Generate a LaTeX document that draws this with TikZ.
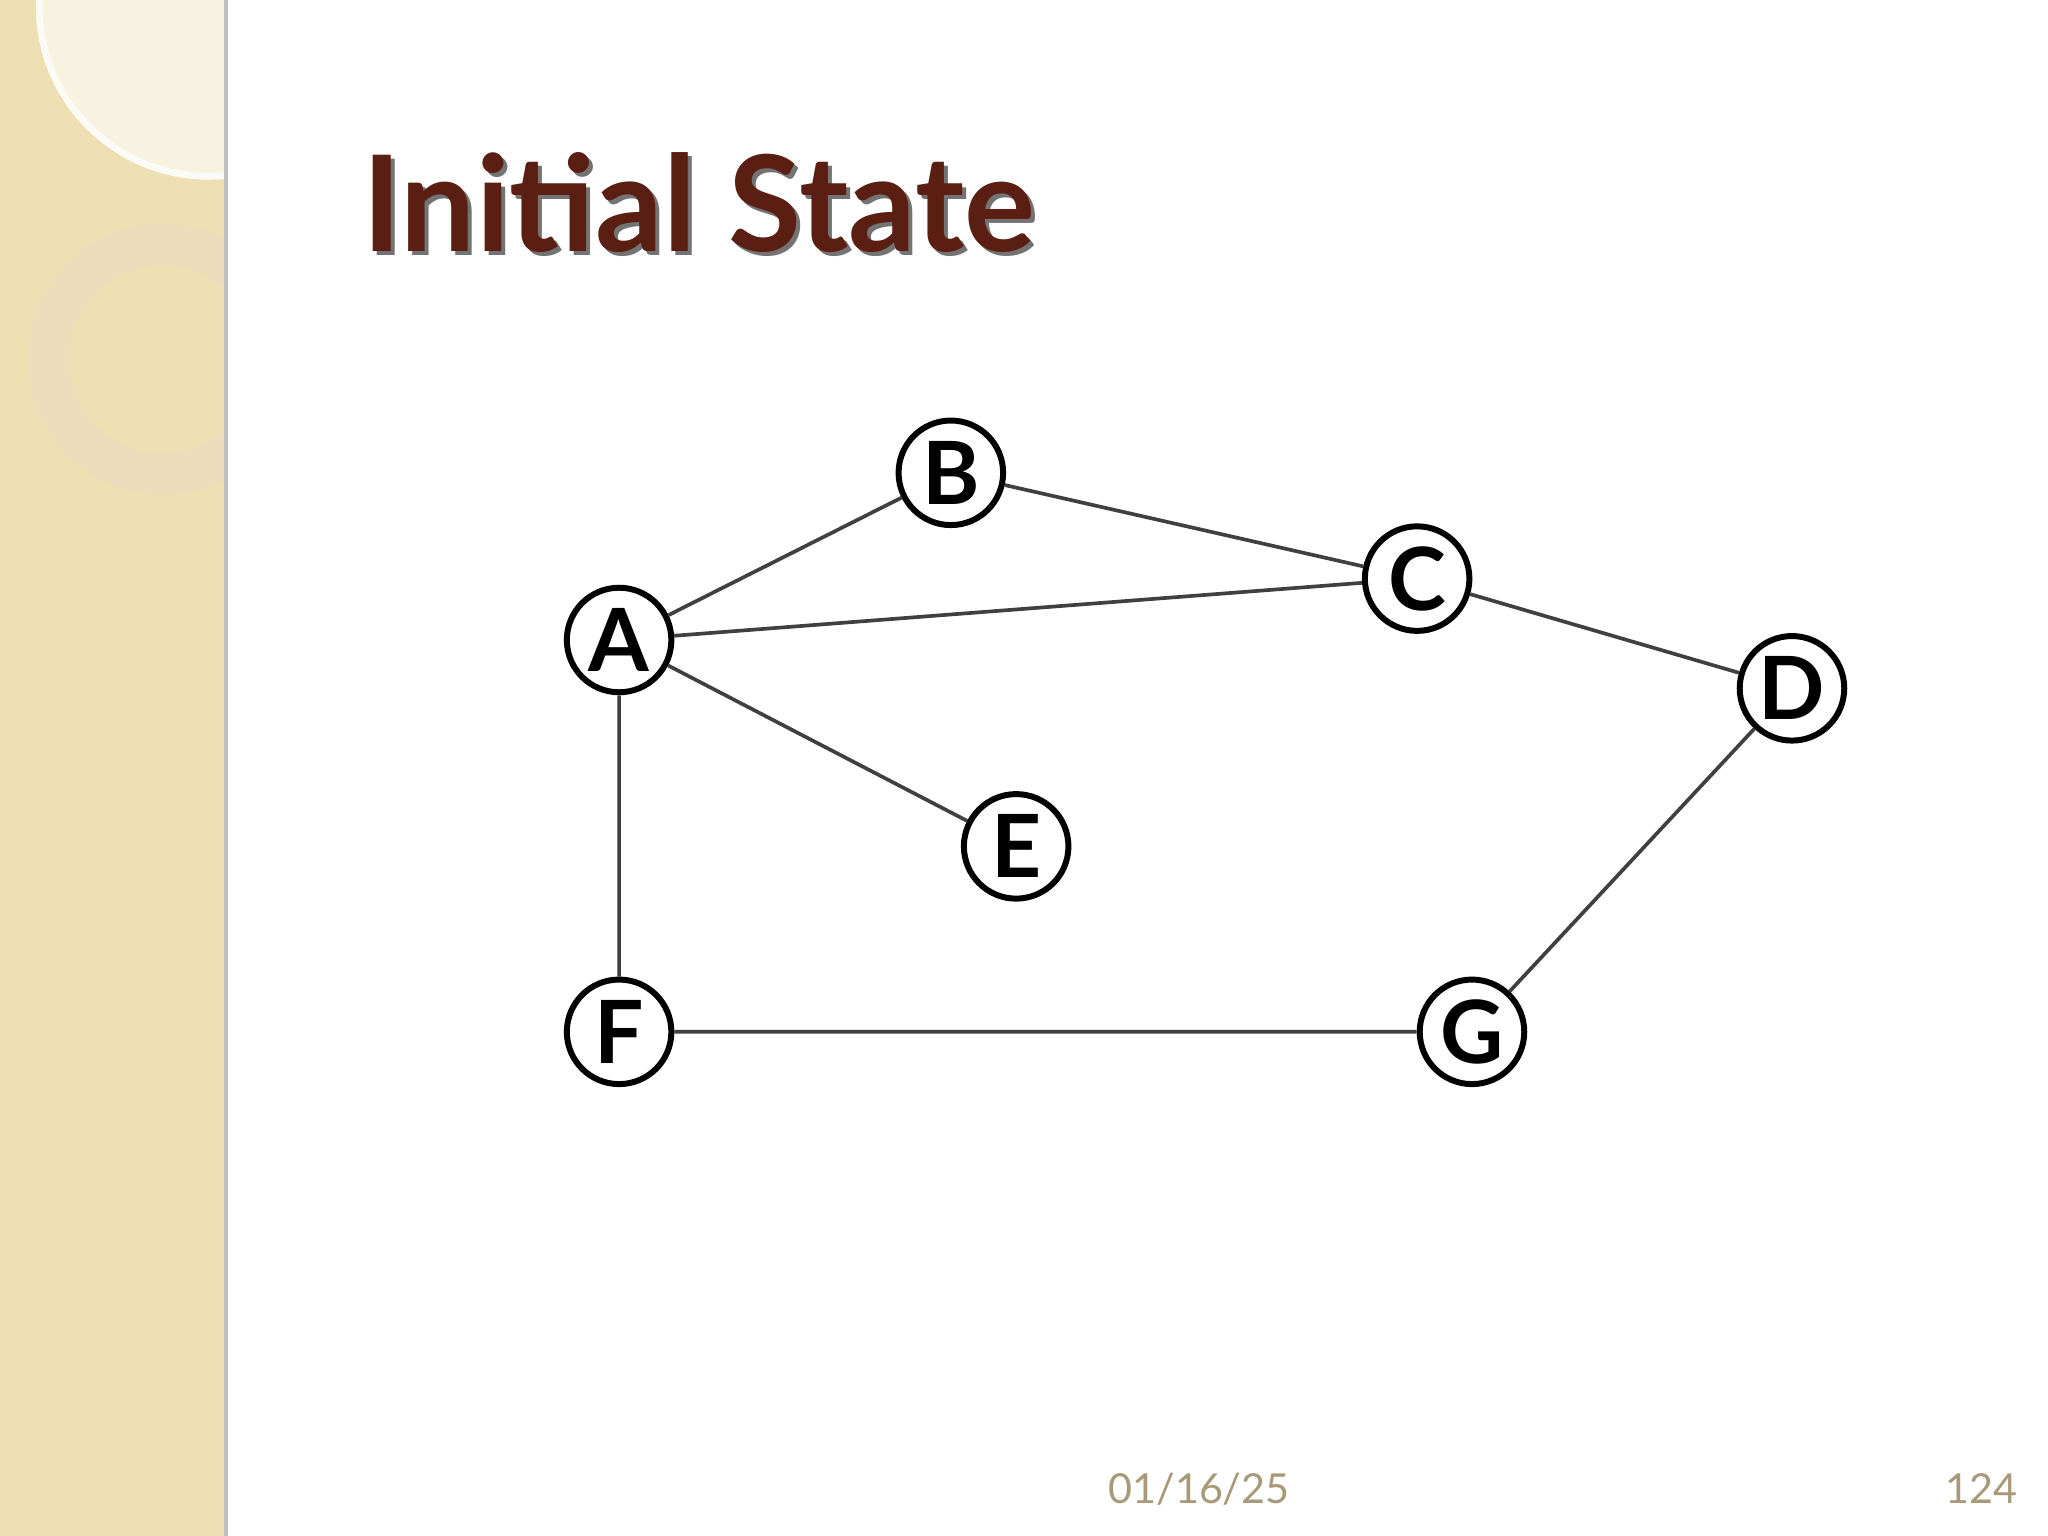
\documentclass[tikz,border=0pt]{standalone}
\usepackage{fontspec}
\setmainfont{Lato}
\begin{document}
\begin{tikzpicture}[x=0.01cm,y=-0.01cm,
  vtx/.style={circle,draw=black,line width=1.3pt,fill=white,minimum size=0.8cm,inner sep=0pt,font=\fontsize{19}{19}\selectfont\bfseries},
  edge/.style={draw=black!75,line width=0.8pt}]
\useasboundingbox (0,0) rectangle (1568,1176);
\fill[white] (0,0) rectangle (1568,1176);
\definecolor{strip}{HTML}{EEDFB2}
\fill[strip] (0,0) rectangle (173,1176);
\begin{scope}
\clip (0,0) rectangle (173,1176);
\fill[white!60!strip] (160,5) circle (130);
\draw[white!85!strip,line width=1.5pt] (160,5) circle (130);
\draw[white!40!strip!85!brown,line width=9pt] (125,275) circle (88);
\end{scope}
\draw[gray!50,line width=0.8pt] (173,0) -- (173,1176);
\definecolor{ttl}{HTML}{5A1E12}
\node[anchor=west,font=\fontsize{29}{29}\selectfont\bfseries,text=black!55] (ts) at (268,158) {Initial State};
\node[anchor=west,font=\fontsize{29}{29}\selectfont\bfseries,text=ttl] (t) at (265,155) {Initial State};
\node[vtx] (B) at (728,362) {B};
\node[vtx] (C) at (1085,443) {C};
\node[vtx] (A) at (474,490) {A};
\node[vtx] (D) at (1372,527) {D};
\node[vtx] (E) at (778,648) {E};
\node[vtx] (F) at (474,790) {F};
\node[vtx] (G) at (1127,790) {G};
\draw[edge] (A)--(B) (B)--(C) (A)--(C) (C)--(D) (A)--(E) (A)--(F) (F)--(G) (G)--(D);
\definecolor{ftr}{HTML}{A89A78}
\node[font=\fontsize{9}{9}\selectfont,text=ftr] (d) at (918,1140) {01/16/25};
\node[font=\fontsize{9}{9}\selectfont,text=ftr] (n) at (1517,1140) {124};
\end{tikzpicture}
\end{document}
